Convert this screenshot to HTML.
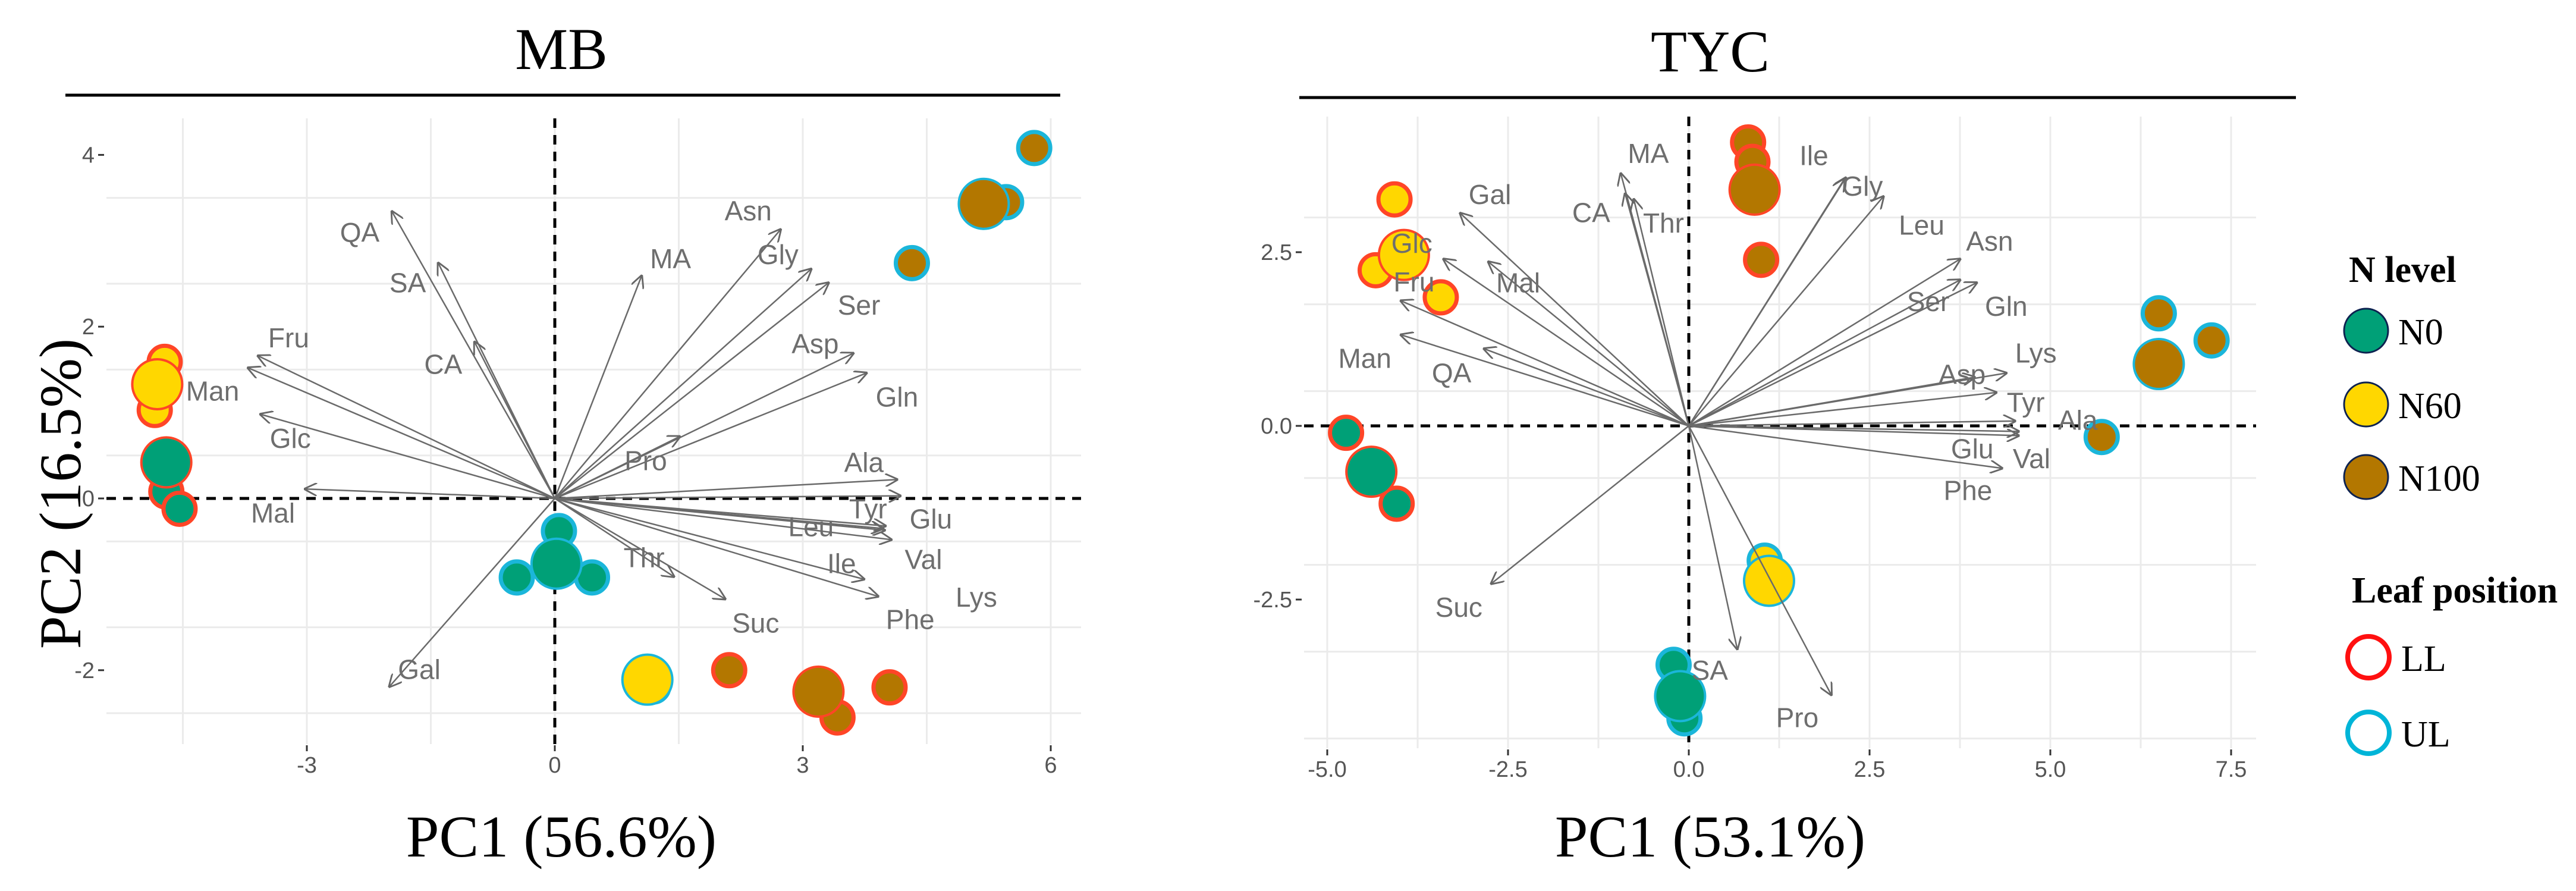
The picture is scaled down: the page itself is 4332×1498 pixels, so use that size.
<!DOCTYPE html>
<html><head><meta charset="utf-8"><style>
html,body{margin:0;padding:0;background:#fff}
svg{display:block}
.tick{font-family:"Liberation Sans",sans-serif;font-size:38px;fill:#555}
.var{font-family:"Liberation Sans",sans-serif;font-size:46px;fill:#6e6e6e}
.ttl{font-family:"Liberation Serif",serif;font-size:100px;fill:#000}
.leg{font-family:"Liberation Serif",serif;font-size:62px;fill:#000}
</style></head><body>
<svg id="chart" width="4332" height="1498" viewBox="0 0 4332 1498" xmlns="http://www.w3.org/2000/svg">
<defs>
<marker id="ah" viewBox="0 0 10 10" refX="9" refY="5" markerWidth="22" markerHeight="22" markerUnits="userSpaceOnUse" orient="auto">
<path d="M0,0 L10,5 L0,10" fill="none" stroke="#666" stroke-width="1.3"/></marker>
</defs>
<g id="mb"></g>
<g id="tyc"></g>
<g id="legend">
<text class="leg" x="3950" y="474" font-weight="bold">N level</text>
<ellipse cx="3979" cy="556" rx="37" ry="37" fill="#00A077" stroke="#0d2250" stroke-width="3"/>
<text class="leg" x="4033" y="579">N0</text>
<ellipse cx="3979" cy="680" rx="37" ry="37" fill="#FFD700" stroke="#0d2250" stroke-width="3"/>
<text class="leg" x="4033" y="703">N60</text>
<ellipse cx="3979" cy="802" rx="37" ry="37" fill="#B37700" stroke="#0d2250" stroke-width="3"/>
<text class="leg" x="4033" y="825">N100</text>
<text class="leg" x="3955" y="1013" font-weight="bold">Leaf position</text>
<circle cx="3983" cy="1105" r="35" fill="none" stroke="#FF1010" stroke-width="8"/>
<text class="leg" x="4038" y="1128">LL</text>
<circle cx="3983" cy="1232" r="35" fill="none" stroke="#00B5D8" stroke-width="8"/>
<text class="leg" x="4038" y="1255">UL</text>
</g>
</svg>
<script>
// ---------- MB data ----------
const mbVarNames = ["QA","SA","CA","Fru","Man","Glc","Mal","Gal","MA","Asn","Gly","Ser","Asp","Gln","Pro","Ala","Tyr","Glu","Leu","Val","Lys","Ile","Phe","Thr","Suc"];
const mbVarX = [-1.97,-1.41,-0.97,-3.59,-3.71,-3.56,-3.02,-2.0,1.05,2.73,3.10,3.31,3.61,3.77,1.51,4.14,4.18,3.97,3.99,4.07,4.0,3.74,3.91,1.44,2.06];
const mbVarY = [3.34,2.74,1.82,1.66,1.52,0.98,0.11,-2.19,2.59,3.13,2.67,2.51,1.69,1.46,0.72,0.22,0.03,-0.35,-0.37,-0.48,-0.32,-0.94,-1.14,-0.91,-1.17];
const mbLabX = [-2.36,-1.78,-1.35,-3.22,-4.14,-3.2,-3.41,-1.64,1.40,2.34,2.70,3.68,3.15,4.14,1.10,3.74,3.79,4.55,3.10,4.46,5.1,3.47,4.30,1.08,2.43];
const mbLabY = [3.1,2.51,1.56,1.87,1.25,0.70,-0.17,-1.99,2.79,3.35,2.84,2.25,1.80,1.18,0.44,0.42,-0.12,-0.24,-0.33,-0.71,-1.15,-0.76,-1.41,-0.69,-1.45];
const mbPtX = [-4.72,-4.84,-4.81,-4.70,-4.54,-4.70,0.05,-0.46,0.45,0.02,1.19,1.12,2.11,3.42,4.05,3.19,5.80,5.46,4.32,5.19];
const mbPtY = [1.59,1.03,1.33,0.08,-0.12,0.42,-0.38,-0.92,-0.92,-0.76,-2.19,-2.11,-2.0,-2.55,-2.2,-2.25,4.08,3.45,2.74,3.43];
const mbPtN = ["N60","N60","N60","N0","N0","N0","N0","N0","N0","N0","N60","N60","N100","N100","N100","N100","N100","N100","N100","N100"];
const mbPtLeaf = ["LL","LL","LL","LL","LL","LL","UL","UL","UL","UL","UL","UL","LL","LL","LL","LL","UL","UL","UL","UL"];
const mbPtBig = [0,0,1,0,0,1,0,0,0,1,0,1,0,0,0,1,0,0,0,1];
const mbXTicks = [-3,0,3,6];
const mbYTicks = [4,2,0,-2];
// ---------- TYC data ----------
const tyVarNames = ["MA","CA","Thr","Gal","Glc","Mal","Fru","Man","QA","Suc","SA","Pro","Ile","Gly","Leu","Asn","Ser","Gln","Lys","Asp","Tyr","Ala","Glu","Val","Phe"];
const tyVarX = [-0.94,-0.88,-0.76,-3.16,-3.39,-2.77,-3.98,-3.98,-2.83,-2.73,0.67,1.97,2.15,2.17,2.69,3.75,3.75,3.98,4.39,3.95,4.25,4.51,4.56,4.56,4.33];
const tyVarY = [3.63,3.34,3.26,3.06,2.40,2.36,1.80,1.31,1.11,-2.27,-3.21,-3.87,3.55,3.57,3.30,2.40,2.10,2.06,0.76,0.70,0.48,0.07,-0.14,-0.08,-0.61];
const tyLabX = [-0.56,-1.35,-0.35,-2.75,-3.83,-2.36,-3.80,-4.48,-3.28,-3.18,0.29,1.50,1.73,2.40,3.22,4.16,3.31,4.39,4.80,3.78,4.66,5.38,3.92,4.74,3.86];
const tyLabY = [3.92,3.07,2.92,3.33,2.63,2.06,2.07,0.97,0.76,-2.61,-3.52,-4.20,3.89,3.45,2.89,2.66,1.79,1.72,1.05,0.74,0.34,0.08,-0.33,-0.47,-0.93];
const tyPtX = [0.82,0.88,0.91,1.0,-4.07,-4.33,-3.43,-3.94,-4.74,-4.04,-4.39,1.05,1.11,-0.21,-0.06,-0.12,6.50,7.23,5.71,6.50];
const tyPtY = [4.08,3.80,3.40,2.39,3.26,2.24,1.85,2.46,-0.10,-1.12,-0.66,-1.94,-2.23,-3.44,-4.21,-3.89,1.62,1.23,-0.16,0.89];
const tyPtN = ["N100","N100","N100","N100","N60","N60","N60","N60","N0","N0","N0","N60","N60","N0","N0","N0","N100","N100","N100","N100"];
const tyPtLeaf = ["LL","LL","LL","LL","LL","LL","LL","LL","LL","LL","LL","UL","UL","UL","UL","UL","UL","UL","UL","UL"];
const tyPtBig = [0,0,1,0,0,0,0,1,0,0,1,0,1,0,0,1,0,0,0,1];
const tyXTicks = [-5.0,-2.5,0.0,2.5,5.0,7.5];
const tyYTicks = [2.5,0.0,-2.5];

const fillCol = {N0:"#00A077",N60:"#FFD700",N100:"#B37700"};
const leafCol = {LL:"#FF4527",UL:"#1BB6DA"};
const NS="http://www.w3.org/2000/svg";
function mk(parent,tag,attrs){const e=document.createElementNS(NS,tag);for(const k in attrs)e.setAttribute(k,attrs[k]);parent.appendChild(e);return e;}

function panel(g,cfg){
  const sx=v=>cfg.x0+v*cfg.kx, sy=v=>cfg.y0-v*cfg.ky;
  for(let v=cfg.gx0; v<=cfg.gx1+1e-9; v+=cfg.gstepx){
    const l=mk(g,'line',{x1:sx(v),x2:sx(v),y1:cfg.top,y2:cfg.bot,stroke:'#ebebeb','stroke-width':3});
    
    
  }
  for(let v=cfg.gy0; v<=cfg.gy1+1e-9; v+=cfg.gstepy){
    const l=mk(g,'line',{x1:cfg.left,x2:cfg.right,y1:sy(v),y2:sy(v),stroke:'#ebebeb','stroke-width':3});
    
    
  }
  cfg.xt.forEach(v=>{
    const t=mk(g,'text',{x:sx(v),y:cfg.bot+48,'text-anchor':'middle',class:'tick'});t.textContent=cfg.fmt(v);
    
    
    const m=mk(g,'line',{x1:sx(v),x2:sx(v),y1:cfg.bot+2,y2:cfg.bot+12,stroke:'#333','stroke-width':3});
    
    
  });
  cfg.yt.forEach(v=>{
    const t=mk(g,'text',{x:cfg.left-20,y:sy(v)+13,'text-anchor':'end',class:'tick'});t.textContent=cfg.fmt(v);
    
    
    const m=mk(g,'line',{x1:cfg.left-14,x2:cfg.left-4,y1:sy(v),y2:sy(v),stroke:'#333','stroke-width':3});
    
    
  });
  let z=mk(g,'line',{x1:cfg.left,x2:cfg.right,y1:sy(0),y2:sy(0),stroke:'#000','stroke-width':5,'stroke-dasharray':'16 12'});
  
  
  z=mk(g,'line',{x1:sx(0),x2:sx(0),y1:cfg.top,y2:cfg.bot,stroke:'#000','stroke-width':5,'stroke-dasharray':'16 12'});
  
  
  cfg.px.forEach((x,i)=>{
    const r=cfg.big[i]?42:27;
    const c=mk(g,'circle',{cx:sx(x),cy:sy(cfg.py[i]),r:r,fill:fillCol[cfg.pn[i]],stroke:leafCol[cfg.pl[i]],'stroke-width':cfg.big[i]?4:7});
    
    
  });
  cfg.vn.forEach((n,i)=>{
    const a=mk(g,'line',{x1:sx(0),y1:sy(0),x2:sx(cfg.vx[i]),y2:sy(cfg.vy[i]),stroke:'#6a6a6a','stroke-width':2.5,'marker-end':'url(#ah)'});
    
    
    const t=mk(g,'text',{x:sx(cfg.labx[i]),y:sy(cfg.laby[i])+16,'text-anchor':'middle',class:'var'});t.textContent=n;
    
    
  });
  let t=mk(g,'text',{x:cfg.tx,y:cfg.ty,'text-anchor':'middle',class:'ttl'});t.textContent=cfg.title;
  
  
  const ln=mk(g,'line',{x1:cfg.ux1,x2:cfg.ux2,y1:cfg.uy,y2:cfg.uy,stroke:'#000','stroke-width':5});
  
  
  t=mk(g,'text',{x:cfg.tx,y:1440,'text-anchor':'middle',class:'ttl'});t.textContent=cfg.xlab;
  
  
  if(cfg.ylab){
    t=mk(g,'text',{x:0,y:0,'text-anchor':'middle',class:'ttl',transform:'translate(135,830) rotate(-90)'});t.textContent=cfg.ylab;
    
    
  }
}
panel(document.getElementById('mb'),{x0:933,y0:838,kx:139,ky:144.4,top:199,bot:1251,left:179,right:1818,
  gx0:-4.5,gx1:6,gstepx:1.5,gy0:-2.5,gy1:4,gstepy:1.0,xt:mbXTicks,yt:mbYTicks,fmt:v=>String(v),
  vn:mbVarNames,vx:mbVarX,vy:mbVarY,labx:mbLabX,laby:mbLabY,px:mbPtX,py:mbPtY,pn:mbPtN,pl:mbPtLeaf,big:mbPtBig,
  title:"MB",tx:944,ty:116,ux1:110,ux2:1783,uy:160,xlab:"PC1 (56.6%)",ylab:"PC2 (16.5%)"});
panel(document.getElementById('tyc'),{x0:2840,y0:716,kx:121.6,ky:116.8,top:196,bot:1258,left:2193,right:3794,
  gx0:-5,gx1:7.5,gstepx:1.25,gy0:-4.5,gy1:3.75,gstepy:1.25,xt:tyXTicks,yt:tyYTicks,fmt:v=>v.toFixed(1),
  vn:tyVarNames,vx:tyVarX,vy:tyVarY,labx:tyLabX,laby:tyLabY,px:tyPtX,py:tyPtY,pn:tyPtN,pl:tyPtLeaf,big:tyPtBig,
  title:"TYC",tx:2876,ty:120,ux1:2185,ux2:3861,uy:164,xlab:"PC1 (53.1%)",ylab:null});
</script>
</body></html>
